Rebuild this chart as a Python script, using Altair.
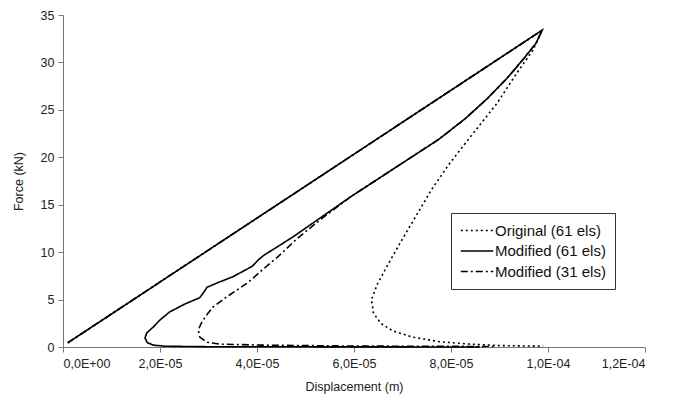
import altair as alt
import pandas as pd

# Loading branch (shared by all runs)
load_x = [0.1e-5, 9.88e-5]
load_y = [0.45, 33.4]

# Modified (61 els) unloading
mod61_x = [9.88e-5, 9.75e-5, 9.50e-5, 9.15e-5, 8.75e-5, 8.30e-5, 7.75e-5, 7.09e-5, 5.92e-5, 4.74e-5,
           4.40e-5, 4.15e-5, 4.05e-5, 3.90e-5, 3.50e-5, 3.20e-5, 2.97e-5, 2.92e-5, 2.82e-5, 2.50e-5,
           2.20e-5, 2.00e-5, 1.86e-5, 1.73e-5, 1.69e-5, 1.74e-5, 1.86e-5, 2.10e-5, 3.00e-5, 8.60e-5]
mod61_y = [33.4, 32.0, 30.4, 28.3, 26.2, 24.1, 21.9, 19.7, 15.8, 11.6,
           10.5, 9.7, 9.3, 8.5, 7.4, 6.8, 6.3, 5.9, 5.2, 4.5,
           3.7, 2.85, 2.1, 1.5, 0.95, 0.45, 0.2, 0.08, 0.03, 0.0]

# Modified (31 els) unloading
mod31_x = [9.88e-5, 9.75e-5, 9.50e-5, 9.15e-5, 8.75e-5, 8.30e-5, 7.75e-5, 7.09e-5, 5.92e-5, 5.30e-5,
           4.82e-5, 4.45e-5, 4.06e-5, 3.79e-5, 3.38e-5, 3.09e-5, 2.95e-5, 2.85e-5, 2.79e-5, 2.82e-5,
           2.97e-5, 3.24e-5, 4.06e-5, 6.00e-5, 8.90e-5]
mod31_y = [33.4, 32.0, 30.4, 28.3, 26.2, 24.1, 21.9, 19.7, 15.8, 13.4,
           11.4, 9.6, 7.9, 6.7, 5.3, 4.2, 3.3, 2.5, 1.8, 1.05,
           0.5, 0.3, 0.2, 0.1, 0.05]

# Original (61 els) unloading
orig_x = [9.88e-5, 9.69e-5, 9.36e-5, 8.95e-5, 8.39e-5, 7.95e-5, 7.60e-5, 7.30e-5, 7.00e-5, 6.70e-5,
          6.48e-5, 6.36e-5, 6.40e-5, 6.55e-5, 6.80e-5, 7.20e-5, 7.77e-5, 8.40e-5, 9.00e-5, 9.90e-5]
orig_y = [33.4, 31.3, 28.9, 25.7, 22.1, 19.2, 16.6, 14.0, 11.4, 8.7,
          6.6, 5.0, 3.6, 2.5, 1.7, 1.05, 0.55, 0.3, 0.15, 0.08]

series_names = ["Original (61 els)", "Modified (61 els)", "Modified (31 els)"]
x_ticks = [0, 2e-5, 4e-5, 6e-5, 8e-5, 1e-4, 1.2e-4]
x_tick_labels = ["0,0E+00", "2,0E-05", "4,0E-05", "6,0E-05", "8,0E-05", "1,0E-04", "1,2E-04"]
y_ticks = [0, 5, 10, 15, 20, 25, 30, 35]

rows = []
for name, ux, uy in [(series_names[0], orig_x, orig_y),
                     (series_names[1], mod61_x, mod61_y),
                     (series_names[2], mod31_x, mod31_y)]:
    xs = load_x + ux[1:]
    ys = load_y + uy[1:]
    for i, (a, b) in enumerate(zip(xs, ys)):
        rows.append({"series": name, "i": i, "disp": a, "force": b})
df = pd.DataFrame(rows)

label_expr = "[" + ",".join("'%s'" % s for s in x_tick_labels) + "][round(datum.value/2e-5)]"

chart = alt.Chart(df).mark_line(color="black", strokeWidth=1.6).encode(
    x=alt.X("disp:Q", scale=alt.Scale(domain=[0, 1.2e-4], nice=False),
            axis=alt.Axis(values=x_ticks, labelExpr=label_expr, title="Displacement (m)",
                          titlePadding=11, labelPadding=5)),
    y=alt.Y("force:Q", scale=alt.Scale(domain=[0, 35], nice=False),
            axis=alt.Axis(values=y_ticks, title="Force (kN)", titlePadding=15, labelPadding=4)),
    strokeDash=alt.StrokeDash("series:N",
                              scale=alt.Scale(domain=series_names,
                                              range=[[2, 3], [1, 0], [7, 3, 2, 3]]),
                              legend=alt.Legend(title=None, orient="none", legendX=388, legendY=198,
                                                strokeColor="#333", padding=9, symbolType="stroke",
                                                symbolSize=1050, symbolStrokeWidth=1.4,
                                                symbolStrokeColor="black", clipHeight=17,
                                                rowPadding=3.5, labelFontSize=15, labelOffset=1,
                                                labelFont="Liberation Sans", labelColor="#111")),
    order="i:Q",
    detail="series:N",
).properties(
    width=582, height=332,
    autosize=alt.AutoSizeParams(type="none"),
    padding={"left": 55, "top": 7, "right": 40, "bottom": 52},
).configure_view(stroke=None).configure_axis(
    grid=False, labelFont="Liberation Sans", labelFontSize=12.5, labelColor="#222",
    titleFont="Liberation Sans", titleFontSize=12.5, titleFontWeight="normal", titleColor="#222",
    domainColor="#777", tickColor="#777", tickSize=5,
)

chart.save("out.html", embed_options={"renderer": "svg", "actions": False})
